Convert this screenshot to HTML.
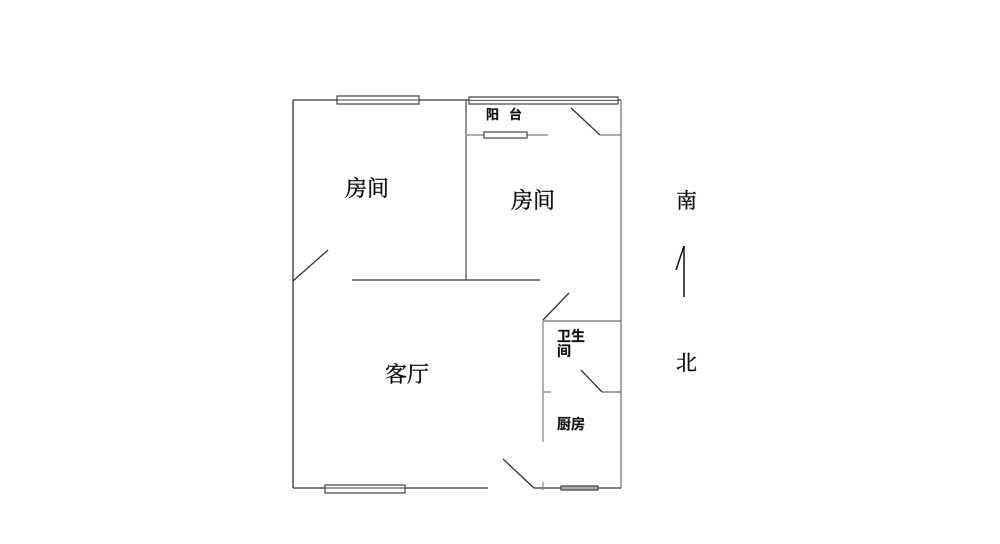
<!DOCTYPE html>
<html><head><meta charset="utf-8"><style>
html,body{margin:0;padding:0;background:#fff;}
svg{display:block}
text{font-family:"Liberation Serif","Noto Serif CJK SC","Noto Sans CJK SC",serif;fill:#111;stroke:#111;stroke-width:0.4;}
text.s{font-family:"Liberation Sans","Noto Sans CJK SC",sans-serif;stroke-width:0.2;font-weight:bold;}
</style></head><body>
<svg width="1000" height="544" viewBox="0 0 1000 544">
<g stroke="#333" stroke-width="1.3" fill="none">
<line x1="293" y1="100" x2="621" y2="100"/>
<line x1="293" y1="100" x2="293" y2="488"/>
<line x1="621" y1="100" x2="621" y2="488" stroke="#777"/>
<line x1="293" y1="488" x2="488" y2="488"/>
<line x1="534" y1="488" x2="621" y2="488"/>
<line x1="466" y1="100" x2="466" y2="280" stroke="#555"/>
<line x1="352" y1="280" x2="540" y2="280"/>
<line x1="467" y1="135" x2="548" y2="135" stroke="#777"/>
<line x1="600" y1="135" x2="621" y2="135" stroke="#777"/>
<line x1="543" y1="321" x2="621" y2="321" stroke="#666"/>
<line x1="543" y1="321" x2="543" y2="442" stroke="#888"/>
<line x1="543" y1="482" x2="543" y2="490" stroke="#888"/>
<line x1="543" y1="392" x2="551" y2="392" stroke="#888"/>
<line x1="602" y1="392" x2="621" y2="392" stroke="#666"/>
<line x1="293" y1="281" x2="328" y2="250"/>
<line x1="571" y1="108" x2="600" y2="135"/>
<line x1="543" y1="320" x2="569" y2="293"/>
<line x1="581" y1="370" x2="602" y2="392"/>
<line x1="503" y1="459" x2="534" y2="488"/>
<line x1="684" y1="246" x2="684" y2="297" stroke="#111" stroke-width="1.5"/>
<line x1="684" y1="246" x2="676" y2="270" stroke="#111" stroke-width="1.5"/>
</g>
<g fill="#fff" stroke="#444" stroke-width="1.2">
<rect x="337" y="96" width="82" height="8"/>
<rect x="469" y="97" width="149" height="7"/>
<line x1="469" y1="100.5" x2="618" y2="100.5" stroke="#666"/>
<line x1="337" y1="100" x2="419" y2="100" stroke="#666"/>
<rect x="484" y="132" width="43" height="6"/>
<rect x="325" y="485" width="80" height="8"/>
<line x1="325" y1="488" x2="405" y2="488" stroke="#666"/>
<rect x="561" y="486" width="37" height="4" fill="#aaa"/>
</g>
<text x="345" y="196" font-size="22">房间</text>
<text x="511" y="208" font-size="22">房间</text>
<text x="385" y="382" font-size="22">客厅</text>
<text class="s" x="486" y="119" font-size="13">阳</text>
<text class="s" x="509" y="119" font-size="13">台</text>
<text class="s" x="557" y="341" font-size="14">卫生</text>
<text class="s" x="557" y="356" font-size="14">间</text>
<text class="s" x="557" y="429" font-size="14">厨房</text>
<text x="676" y="208" font-size="21">南</text>
<text x="676" y="370" font-size="21">北</text>
</svg>
</body></html>
